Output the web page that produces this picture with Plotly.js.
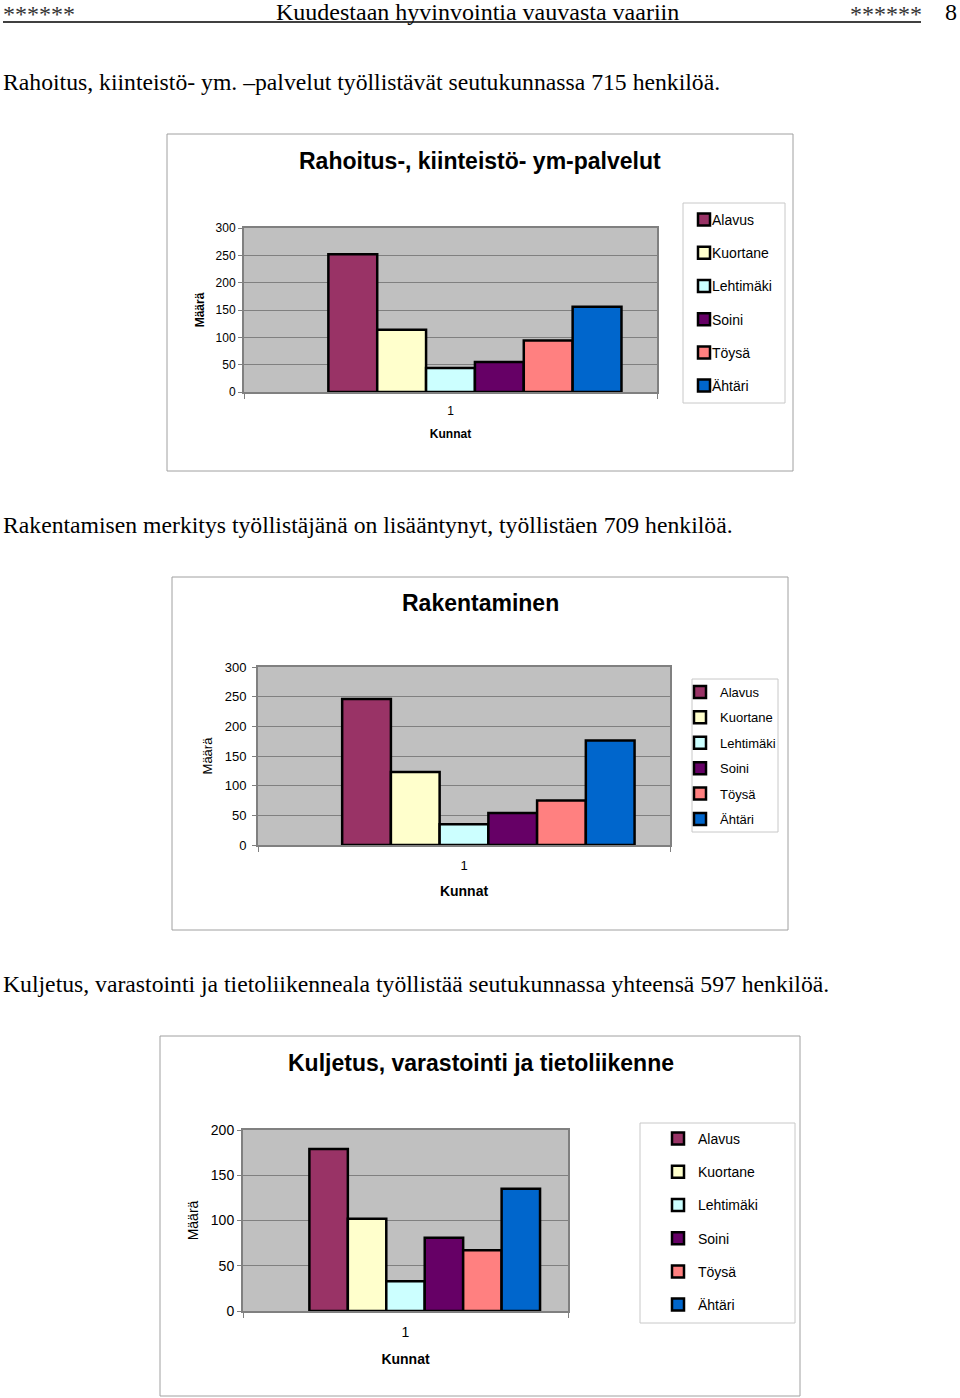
<!DOCTYPE html>
<html>
<head>
<meta charset="utf-8">
<script src="https://cdn.plot.ly/plotly-3.0.1.min.js"></script>
<style>
html,body{margin:0;padding:0;background:#fff;}
#page{width:960px;height:1398px;}
</style>
</head>
<body>
<div id="page"></div>
<script>
// ---- data ----
const categories = ["1"];
const municipalities = ["Alavus", "Kuortane", "Lehtimäki", "Soini", "Töysä", "Ähtäri"];
const rahoitus = [252, 114, 44, 55, 94, 156];
const rakentaminen = [246, 123, 35, 54, 75, 176];
const kuljetus = [179, 102, 33, 81, 67, 135];
const yTicks1 = [0, 50, 100, 150, 200, 250, 300];
const yTicks3 = [0, 50, 100, 150, 200];

// ---- styles ----
const barColors = ["#993366", "#FFFFCC", "#CCFFFF", "#660066", "#FF8080", "#0066CC"];
const W = 960, H = 1398;
const fx = p => p / W;
const fy = p => 1 - p / H;
const SANS = "Liberation Sans, Arial, sans-serif";
const SERIF = "Liberation Serif, Times New Roman, serif";

const traces = [];
function addChart(values, idx) {
  const sfx = idx === 1 ? "" : String(idx);
  // empty leading series slot (the original chart reserves an empty first column)
  traces.push({
    type: "bar", x: categories, y: [null], name: "", showlegend: false,
    xaxis: "x" + sfx, yaxis: "y" + sfx, hoverinfo: "none",
    marker: {color: "rgba(0,0,0,0)", line: {width: 0}}
  });
  municipalities.forEach((m, i) => {
    traces.push({
      type: "bar",
      x: categories,
      y: [values[i]],
      name: m,
      xaxis: "x" + sfx,
      yaxis: "y" + sfx,
      legend: "legend" + sfx,
      legendgroup: m + idx,
      marker: {color: barColors[i], line: {color: "#000", width: 2.5}},
      hoverinfo: "none"
    });
  });
}
addChart(rahoitus, 1);
addChart(rakentaminen, 2);
addChart(kuljetus, 3);

function xAx(l, r, anchor, size, titleSize, standoff) {
  return {
    domain: [fx(l), fx(r)], anchor: anchor, type: "category",
    showline: true, mirror: true, linecolor: "#808080", linewidth: 2,
    ticks: "outside", tickson: "boundaries", ticklen: 5, tickcolor: "#808080",
    ticklabelstandoff: 7,
    tickfont: {family: SANS, size: size, color: "#000"},
    showgrid: false, zeroline: false, fixedrange: true,
    title: {text: "<b>Kunnat</b>", font: {family: SANS, size: titleSize, color: "#000"}, standoff: standoff}
  };
}
function yAx(t, b, anchor, range, tickvals, size, title, titleSize, standoff, lblOff) {
  return {
    domain: [fy(b), fy(t)], anchor: anchor, range: range,
    tickvals: tickvals, ticktext: tickvals.map(String),
    showline: true, mirror: true, linecolor: "#808080", linewidth: 2,
    ticks: "outside", ticklen: 4, tickcolor: "#808080",
    ticklabelstandoff: lblOff,
    tickfont: {family: SANS, size: size, color: "#000"},
    showgrid: true, gridcolor: "#808080", gridwidth: 1, zeroline: false, fixedrange: true,
    title: {text: title, font: {family: SANS, size: titleSize, color: "#000"}, standoff: standoff}
  };
}
function legendAt(l, t, size, gap) {
  return {
    x: fx(l), y: fy(t), xanchor: "left", yanchor: "top",
    bgcolor: "rgba(0,0,0,0)", borderwidth: 0,
    font: {family: SANS, size: size, color: "#000"},
    tracegroupgap: gap, itemwidth: 30
  };
}

function txt(text, x, y, size, opts) {
  return Object.assign({
    text: text, x: fx(x), y: fy(y), xref: "paper", yref: "paper",
    xanchor: "left", yanchor: "middle", showarrow: false, borderpad: 0,
    font: {family: SERIF, size: size, color: "#000"}
  }, opts || {});
}
function title(text, x, y, size) {
  return txt("<b>" + text + "</b>", x, y, size, {xanchor: "center", font: {family: SANS, size: size, color: "#000"}});
}
function box(l, t, r, b, color) {
  return {type: "rect", xref: "paper", yref: "paper", x0: fx(l), x1: fx(r), y0: fy(b), y1: fy(t),
          line: {color: color, width: 1}, fillcolor: "rgba(0,0,0,0)", layer: "below"};
}

const annotations = [
  txt("******", 2, 14, 24, {font: {family: SERIF, size: 24, color: "#333"}}),
  txt("Kuudestaan hyvinvointia vauvasta vaariin", 477, 12, 24, {xanchor: "center"}),
  txt("******", 849, 14, 24, {font: {family: SERIF, size: 24, color: "#333"}}),
  txt("8", 951, 12, 24, {xanchor: "center"}),
  txt("Rahoitus, kiinteistö- ym. –palvelut työllistävät seutukunnassa 715 henkilöä.", 2, 82, 23.7),
  txt("Rakentamisen merkitys työllistäjänä on lisääntynyt, työllistäen 709 henkilöä.", 2, 525, 23.7),
  txt("Kuljetus, varastointi ja tietoliikenneala työllistää seutukunnassa yhteensä 597 henkilöä.", 2, 984, 23.7),
  title("Rahoitus-, kiinteistö- ym-palvelut", 480, 161, 23),
  title("Rakentaminen", 480, 603, 23),
  title("Kuljetus, varastointi ja tietoliikenne", 481, 1063, 23)
];

const shapes = [
  {type: "line", xref: "paper", yref: "paper", x0: fx(3), x1: fx(921), y0: fy(22), y1: fy(22), line: {color: "#000", width: 1.5}},
  box(167, 134, 793, 471, "#a0a0a0"),
  box(172, 577, 788, 930, "#a0a0a0"),
  box(160, 1036, 800, 1396, "#a0a0a0"),
  box(683, 203, 785, 403, "#c8c8c8"),
  box(692, 679, 778, 832, "#c8c8c8"),
  box(640, 1123, 795, 1323, "#c8c8c8")
];

const layout = {
  width: W, height: H, margin: {l: 0, r: 0, t: 0, b: 0, pad: 0},
  paper_bgcolor: "#fff", plot_bgcolor: "#C0C0C0",
  barmode: "group", bargap: 0.172, bargroupgap: 0,
  showlegend: true,
  xaxis: xAx(244, 657, "y", 12, 12, 12),
  yaxis: yAx(228, 392, "x", [0, 300], yTicks1, 12, "<b>Määrä</b>", 12, 8, 0),
  xaxis2: xAx(258, 670, "y2", 13, 14, 15),
  yaxis2: yAx(667, 845, "x2", [0, 300], yTicks1, 13, "Määrä", 13, 9, 3),
  xaxis3: xAx(243, 568, "y3", 14, 14, 15),
  yaxis3: yAx(1130, 1311, "x3", [0, 200], yTicks3, 14, "Määrä", 14, 9, 0),
  legend: legendAt(684, 204, 14, 12),
  legend2: legendAt(680, 677, 13, 5.5),
  legend3: legendAt(658, 1123, 14, 12),
  annotations: annotations,
  shapes: shapes
};

// tighten the gap between swatch and label in the first legend, as in the original chart
function tightenLegend(root) {
  root.querySelectorAll("text.legendtext").forEach(t => {
    const r = t.getBoundingClientRect();
    if (r.top > 500) return;
    if (!t.hasAttribute("data-x0")) t.setAttribute("data-x0", t.getAttribute("x") || "0");
    const x0 = parseFloat(t.getAttribute("data-x0")) || 0;
    t.setAttribute("x", x0 - 12);
  });
}

Plotly.newPlot("page", traces, layout, {staticPlot: true, displayModeBar: false}).then(gd => {
  tightenLegend(gd);
  gd.on("plotly_afterplot", () => tightenLegend(gd));
});
</script>
</body>
</html>
